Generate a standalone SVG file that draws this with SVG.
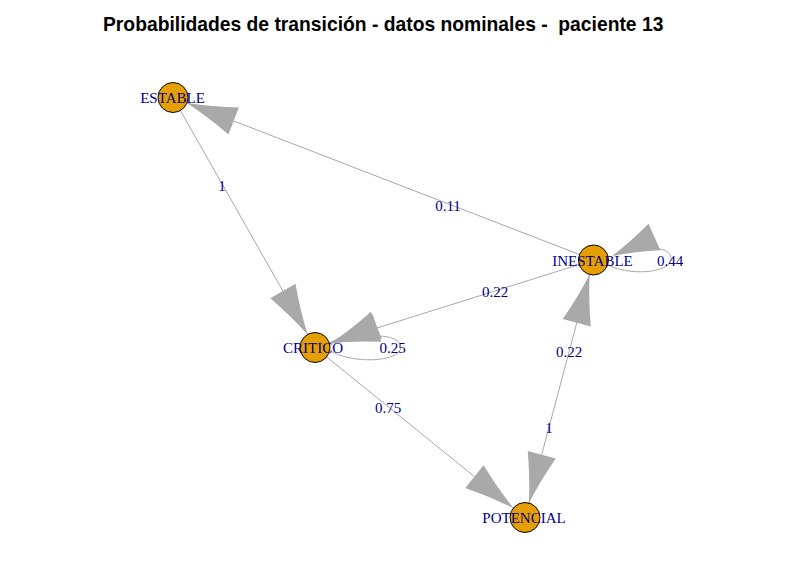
<svg xmlns="http://www.w3.org/2000/svg" xmlns:xlink="http://www.w3.org/1999/xlink" width="790" height="561" viewBox="0 0 790 561">
<style>
.title{font-family:"Liberation Sans",Arial,sans-serif;font-weight:bold;font-size:19.3px;fill:#000;white-space:pre}
.edge{fill:none;stroke:#A9A9A9;stroke-width:1}
.ah{fill:#A9A9A9;stroke:none}
.node{fill:#E69F00;stroke:#000;stroke-width:1}
.nl{font-family:"Liberation Serif","Times New Roman",serif;font-size:15px;fill:#00008B;text-anchor:middle}
.el{font-family:"Liberation Serif","Times New Roman",serif;font-size:15px;fill:#00008B;text-anchor:middle}
</style>
<defs>
<path id="arr" class="ah" d="M0,0 Q-25,-5.5 -50,-14.5 L-50,14.5 Q-25,5.5 0,0 Z"/>
</defs>
<rect width="790" height="561" fill="#fff"/>
<text class="title" x="103" y="31">Probabilidades de transición - datos nominales -  paciente 13</text>
<g id="connectors">
<line class="edge" x1="593.5" y1="260" x2="173" y2="97.5"/>
<line class="edge" x1="173" y1="97.5" x2="315" y2="347.5"/>
<line class="edge" x1="593.5" y1="260" x2="315" y2="347.5"/>
<line class="edge" x1="315" y1="347.5" x2="525" y2="517.5"/>
<line class="edge" x1="593.5" y1="260" x2="525" y2="517.5"/>
<path class="edge" d="M329,350 C350,364 400,363 401,347 C401,340 390,336 378,336"/>
<path class="edge" d="M607,264 C625,276 671,274 671,259 C671,252 664,249 658,249"/>
<use xlink:href="#arr" href="#arr" transform="translate(187,103) rotate(201.1)"/>
<use xlink:href="#arr" href="#arr" transform="translate(307.6,334.5) rotate(60.4)"/>
<use xlink:href="#arr" href="#arr" transform="translate(329.3,343) rotate(162.5)"/>
<use xlink:href="#arr" href="#arr" transform="translate(330,344) rotate(158)"/>
<use xlink:href="#arr" href="#arr" transform="translate(513.3,508.1) rotate(39)"/>
<use xlink:href="#arr" href="#arr" transform="translate(528.9,503) rotate(104.9)"/>
<use xlink:href="#arr" href="#arr" transform="translate(589.6,274.5) rotate(-75.1)"/>
<use xlink:href="#arr" href="#arr" transform="translate(612,256) rotate(155.9) scale(0.93,1)"/>
<text class="el" x="448" y="211">0.11</text>
<text class="el" x="222" y="191">1</text>
<text class="el" x="495" y="297">0.22</text>
<text class="el" x="392.5" y="353">0.25</text>
<text class="el" x="670" y="266">0.44</text>
<text class="el" x="388" y="413">0.75</text>
<text class="el" x="569" y="357">0.22</text>
<text class="el" x="549" y="433">1</text>
</g>
<g id="ESTABLE">
<circle class="node" cx="173" cy="97.5" r="15"/>
<text class="nl" x="172.5" y="103">ESTABLE</text>
</g>
<g id="INESTABLE">
<circle class="node" cx="593.5" cy="260" r="15"/>
<text class="nl" x="592.5" y="265.5">INESTABLE</text>
</g>
<g id="CRITICO">
<circle class="node" cx="315" cy="347.5" r="15"/>
<text class="nl" x="313" y="353">CRITICO</text>
</g>
<g id="POTENCIAL">
<circle class="node" cx="525" cy="517.5" r="15"/>
<text class="nl" x="524" y="523">POTENCIAL</text>
</g>
</svg>
